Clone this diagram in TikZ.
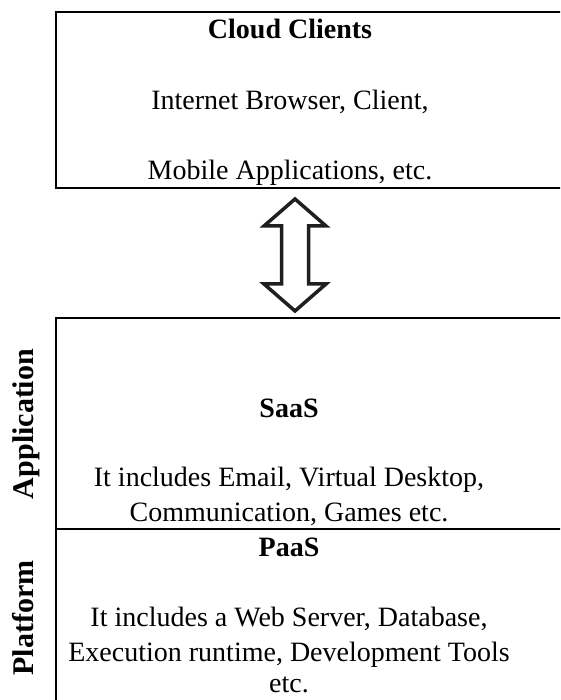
\documentclass[tikz,border=0pt]{standalone}
\usepackage{fontspec}
\setmainfont{Liberation Serif}
\begin{document}
\begin{tikzpicture}[x=1pt,y=1pt,
  box/.style={draw=black,line width=2pt,fill=none},
  txt/.style={font=\fontsize{28}{32}\selectfont,anchor=base,inner sep=0pt},
  btxt/.style={txt,font=\fontsize{28}{32}\selectfont\bfseries},
  side/.style={txt,font=\fontsize{30}{34}\selectfont\bfseries,rotate=90},
  blockarrow/.style={draw=black!88,line width=3.5pt,fill=white,line join=miter}]
\useasboundingbox (0,0) rectangle (560,700);
\clip (0,0) rectangle (560,700);
% boxes
\draw[box] (56,688) rectangle (570,512);
\draw[box] (56,382) rectangle (570,-10);
\draw[box] (56,171) -- (570,171);
% texts
\node[btxt] (cc) at (290,661) {Cloud Clients};
\node[txt] (cc1) at (290,590) {Internet Browser, Client,};
\node[txt] (cc2) at (290,520) {Mobile Applications, etc.};
\node[btxt] (st) at (289,282) {SaaS};
\node[txt] (s1) at (289,213) {It includes Email, Virtual Desktop,};
\node[txt] (s2) at (289,178) {Communication, Games etc.};
\node[btxt] (pt) at (289,143) {PaaS};
\node[txt] (p1) at (289,73) {It includes a Web Server, Database,};
\node[txt] (p2) at (289,38) {Execution runtime, Development Tools};
\node[txt] (p3) at (289,7) {etc.};
\node[side] (app) at (33,276) {Application};
\node[side] (plat) at (33,82) {Platform};
% double block arrow
\coordinate (arr) at (295,445);
\draw[blockarrow] ([yshift=56]arr) -- ([xshift=31,yshift=29]arr) -- ([xshift=13.5,yshift=29]arr)
  -- ([xshift=13.5,yshift=-29]arr) -- ([xshift=31,yshift=-29]arr) -- ([yshift=-56]arr)
  -- ([xshift=-31,yshift=-29]arr) -- ([xshift=-13.5,yshift=-29]arr) -- ([xshift=-13.5,yshift=29]arr)
  -- ([xshift=-31,yshift=29]arr) -- cycle;
\end{tikzpicture}
\end{document}
